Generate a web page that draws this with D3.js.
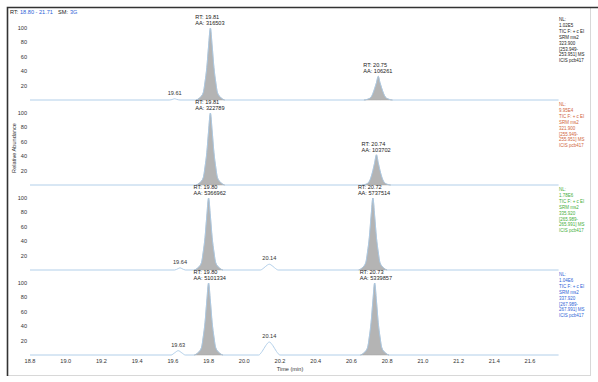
<!DOCTYPE html>
<html>
<head>
<meta charset="utf-8">
<script src="https://cdn.jsdelivr.net/npm/d3@7"></script>
<style>
  body { margin: 0; background: #fff; }
  svg text { font-family: "Liberation Sans", Arial, sans-serif; }
</style>
</head>
<body>
<svg id="chart" width="598" height="382"></svg>
<script>
// x axis ticks (min)
const xTicks = [18.8, 19.0, 19.2, 19.4, 19.6, 19.8, 20.0, 20.2, 20.4, 20.6, 20.8, 21.0, 21.2, 21.4, 21.6];
const yTicks = [20, 40, 60, 80, 100];

// traces, [time, relative abundance %]
const trace1 = [[18.80,0],[19.58,0],[19.60,1],[19.61,1.8],[19.62,1],[19.64,0],[19.73,0],[19.75,3],[19.77,10],[19.78,25],[19.79,45],[19.80,75],[19.81,100],[19.82,75],[19.83,45],[19.84,25],[19.85,10],[19.87,3],[19.89,0],
  [20.67,0],[20.69,1],[20.71,4],[20.72,9],[20.73,16],[20.74,24],[20.75,33],[20.76,24],[20.77,16],[20.78,9],[20.79,4],[20.81,1],[20.83,0],[21.76,0]];
const trace2 = [[18.80,0],[19.73,0],[19.75,3],[19.77,10],[19.78,25],[19.79,45],[19.80,75],[19.81,100],[19.82,75],[19.83,45],[19.84,25],[19.85,10],[19.87,3],[19.89,0],
  [20.66,0],[20.68,1],[20.70,5],[20.71,11],[20.72,20],[20.73,31],[20.74,42],[20.75,31],[20.76,20],[20.77,11],[20.78,5],[20.80,1],[20.82,0],[21.76,0]];
const trace3 = [[18.80,0],[19.61,0],[19.63,2],[19.64,3],[19.65,2],[19.67,0],[19.72,0],[19.74,3],[19.76,10],[19.77,25],[19.78,45],[19.79,75],[19.80,100],[19.81,75],[19.82,45],[19.83,25],[19.84,10],[19.86,3],[19.88,0],
  [20.09,0],[20.11,3],[20.13,7],[20.14,8],[20.15,7],[20.17,3],[20.19,0],
  [20.64,0],[20.66,3],[20.68,10],[20.69,25],[20.70,45],[20.71,75],[20.72,100],[20.73,75],[20.74,45],[20.75,25],[20.76,10],[20.78,3],[20.80,0],[21.76,0]];
const trace4 = [[18.80,0],[19.59,0],[19.61,3],[19.63,6],[19.65,3],[19.67,0],[19.72,0],[19.74,3],[19.76,10],[19.77,25],[19.78,45],[19.79,75],[19.80,100],[19.81,75],[19.82,45],[19.83,25],[19.84,10],[19.86,3],[19.88,0],
  [20.08,0],[20.10,5],[20.12,13],[20.14,18],[20.16,13],[20.18,5],[20.20,0],
  [20.65,0],[20.67,3],[20.69,10],[20.70,25],[20.71,45],[20.72,75],[20.73,100],[20.74,75],[20.75,45],[20.76,25],[20.77,10],[20.79,3],[20.81,0],[21.76,0]];

// integrated peaks: [rt, height %, area]
const peaks1 = [[19.81, 100, '316503'], [20.75, 33, '106261']];
const peaks2 = [[19.81, 100, '322789'], [20.74, 42, '103702']];
const peaks3 = [[19.80, 100, '5366962'], [20.72, 100, '5737514']];
const peaks4 = [[19.80, 100, '5101334'], [20.73, 100, '5339857']];

// small labelled maxima: [rt, height %]
const minor1 = [[19.61, 1.8]];
const minor2 = [];
const minor3 = [[19.64, 3], [20.14, 8]];
const minor4 = [[19.63, 6], [20.14, 18]];

const info1 = ['NL:', '1.02E5', 'TIC F: + c EI', 'SRM ms2', '323.900', '[253.949-', '253.951] MS', 'ICIS pcb417'];
const info2 = ['NL:', '9.95E4', 'TIC F: + c EI', 'SRM ms2', '321.900', '[255.949-', '255.951] MS', 'ICIS pcb417'];
const info3 = ['NL:', '1.78E6', 'TIC F: + c EI', 'SRM ms2', '335.920', '[265.989-', '265.991] MS', 'ICIS pcb417'];
const info4 = ['NL:', '1.04E6', 'TIC F: + c EI', 'SRM ms2', '337.920', '[267.989-', '267.991] MS', 'ICIS pcb417'];

const panels = [
  { trace: trace1, peaks: peaks1, minor: minor1, info: info1, color: '#222222' },
  { trace: trace2, peaks: peaks2, minor: minor2, info: info2, color: '#d0643a' },
  { trace: trace3, peaks: peaks3, minor: minor3, info: info3, color: '#3fae3a' },
  { trace: trace4, peaks: peaks4, minor: minor4, info: info4, color: '#2d5fd6' }
];

const svg = d3.select('#chart');
const fs = 5.6;
const blue = '#2d5fd6';

// frame
svg.append('rect')
   .attr('x', 7.5).attr('y', 7.5)
   .attr('width', 583).attr('height', 368)
   .attr('fill', 'none').attr('stroke', '#d8d8d8');
svg.append('path')
   .attr('d', 'M7.5,376V7.5H598')
   .attr('fill', 'none').attr('stroke', '#333').attr('stroke-width', 1.6);

const x = d3.scaleLinear().domain([18.8, 21.76]).range([30, 558.6]);
const bases = [100, 185, 270, 355];

// title
[['RT:', 10, '#222'], ['18.80 - 21.71', 20, blue], ['SM:', 58, '#222'], ['3G', 70, blue]].forEach(t => {
  svg.append('text')
     .attr('x', t[1]).attr('y', 14)
     .attr('font-size', fs)
     .attr('fill', t[2])
     .text(t[0]);
});

panels.forEach((p, i) => {
  const base = bases[i];
  const y = d3.scaleLinear().domain([0, 100]).range([base, base - 72]);
  const g = svg.append('g');

  // y ticks
  g.selectAll('.yt')
    .data(yTicks)
    .join('text')
      .attr('x', 27)
      .attr('y', d => y(d) + 2)
      .attr('text-anchor', 'end')
      .attr('font-size', fs)
      .attr('fill', '#333')
      .text(d => d);

  // filled integrated peaks
  p.peaks.forEach(pk => {
    const seg = p.trace.filter(d => Math.abs(d[0] - pk[0]) <= 0.09);
    const area = d3.area()
      .x(d => x(d[0]))
      .y0(y(0))
      .y1(d => y(d[1]))
      .curve(d3.curveMonotoneX);
    g.append('path')
      .datum(seg)
      .attr('d', area)
      .attr('fill', '#b4b4b4')
      .attr('stroke', '#a0a0a0')
      .attr('stroke-width', 0.5);
  });

  // trace line
  const line = d3.line()
    .x(d => x(d[0]))
    .y(d => y(d[1]))
    .curve(d3.curveMonotoneX);
  g.append('path')
    .datum(p.trace)
    .attr('d', line)
    .attr('fill', 'none')
    .attr('stroke', '#a9c9e6')
    .attr('stroke-width', 0.9);

  // peak labels
  p.peaks.forEach(pk => {
    const lx = x(pk[0]) - 15;
    const ly = y(pk[1]);
    g.append('text').attr('x', lx).attr('y', ly - 9)
      .attr('font-size', fs).attr('fill', '#222').text(`RT: ${pk[0].toFixed(2)}`);
    g.append('text').attr('x', lx).attr('y', ly - 3)
      .attr('font-size', fs).attr('fill', '#222').text(`AA: ${pk[2]}`);
  });

  p.minor.forEach(m => {
    g.append('text')
      .attr('x', x(m[0]))
      .attr('y', y(m[1]) - 4)
      .attr('text-anchor', 'middle')
      .attr('font-size', fs)
      .attr('fill', '#333')
      .text(m[0].toFixed(2));
  });

  // info block on the right (narrow text)
  g.selectAll('.info')
    .data(p.info)
    .join('text')
      .attr('transform', (d, k) => `translate(559,${base - 79 + k * 5.9}) scale(0.8,1)`)
      .attr('font-size', fs)
      .attr('fill', p.color)
      .text(d => d);
});

// x axis labels
svg.selectAll('.xt')
  .data(xTicks)
  .join('text')
    .attr('x', d => x(d))
    .attr('y', 363)
    .attr('text-anchor', 'middle')
    .attr('font-size', fs)
    .attr('fill', '#333')
    .text(d => d.toFixed(1));

svg.append('text')
   .attr('x', 290).attr('y', 371)
   .attr('text-anchor', 'middle')
   .attr('font-size', fs).attr('fill', '#333')
   .text('Time (min)');

svg.append('text')
   .attr('transform', 'translate(16,148) rotate(-90)')
   .attr('text-anchor', 'middle')
   .attr('font-size', fs).attr('fill', '#333')
   .text('Relative Abundance');
</script>
</body>
</html>
